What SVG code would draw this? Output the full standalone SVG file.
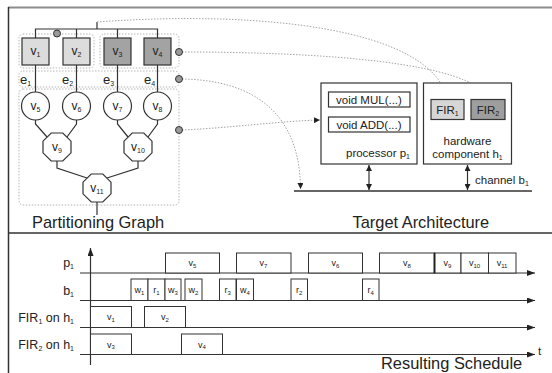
<svg xmlns="http://www.w3.org/2000/svg" width="552" height="373" viewBox="0 0 552 373">
<style>
text{font-family:"Liberation Sans",Arial,sans-serif;fill:#222}
.n{stroke:#333;stroke-width:1.2}
.w{fill:#fff}
.l{fill:none;stroke:#333;stroke-width:1.2}
.dot{fill:none;stroke:#a5a5a5;stroke-width:1;stroke-dasharray:1.5 1.5}
.grp{fill:none;stroke:#b5b5b5;stroke-width:1;stroke-dasharray:1.5 1.5}
.port{fill:#9a9a9a;stroke:#333;stroke-width:1}
.t12{font-size:12px}
.t11{font-size:11.5px}
.rl{font-size:12.5px}
.t9{font-size:9px}
.big{font-size:16.4px}
.sb{font-size:7px}
.sb6{font-size:6px}
.ax{stroke:#333;stroke-width:1.2;fill:none}
.sbox{fill:#fff;stroke:#333;stroke-width:1}
</style>
<defs>
<marker id="ah" markerUnits="userSpaceOnUse" markerWidth="6" markerHeight="6" refX="6" refY="3" orient="auto-start-reverse"><path d="M0,0 L6,3 L0,6 z" fill="#222"/></marker>
<marker id="ax" markerUnits="userSpaceOnUse" markerWidth="8" markerHeight="6" refX="8" refY="3" orient="auto"><path d="M0,0 L8,3 L0,6 z" fill="#222"/></marker>
</defs>
<rect x="0" y="0" width="552" height="373" fill="#fff"/>
<!-- frame -->
<line x1="8" y1="7.5" x2="552" y2="7.5" stroke="#8c8c8c" stroke-width="2"/>
<line x1="8.5" y1="7" x2="8.5" y2="373" stroke="#333" stroke-width="1.5"/>
<line x1="8" y1="233" x2="552" y2="233" stroke="#333" stroke-width="1.6"/>

<!-- grouping rectangles -->
<g id="groups">
<rect class="grp" x="19" y="34" width="75" height="34" rx="4"/>
<rect class="grp" x="100" y="34" width="79" height="34" rx="4"/>
<rect class="grp" x="19" y="71" width="160" height="16" rx="4"/>
<rect class="grp" x="19" y="89" width="160" height="116" rx="4"/>
</g>

<!-- connectors -->
<g id="connectors">
<path class="l" d="M35.5,38 V29 H157.5 V38 M76.5,29 V38 M117.5,29 V38 M97,29 V22"/>
<path class="l" d="M35.5,65 V92 M76.5,65 V92 M117.5,65 V92 M157.5,65 V92"/>
<path class="l" d="M35.5,120 V124 L47,137 M76.5,120 V124 L67,137 M117.5,120 V124 L128,137 M157.5,120 V124 L148,137"/>
<path class="l" d="M57,161 V168 L87,178 M138,161 V168 L107,178 M97,202 V215"/>
<path class="dot" d="M97,22 C260,10 430,28 447,98" marker-end="url(#ah)"/>
<path class="dot" d="M182,52 C320,52 470,62 488,98" marker-end="url(#ah)"/>
<path class="dot" d="M182,79 C250,80 300,110 300.5,189" marker-end="url(#ah)"/>
<path class="dot" d="M182,130 C230,128 280,121 320,120" marker-end="url(#ah)"/>
<line x1="294" y1="191" x2="532" y2="191" stroke="#333" stroke-width="1.3"/>
<line x1="369" y1="165" x2="369" y2="190" stroke="#333" stroke-width="1.2" marker-start="url(#ah)" marker-end="url(#ah)"/>
<line x1="467.5" y1="165" x2="467.5" y2="190" stroke="#333" stroke-width="1.2" marker-start="url(#ah)" marker-end="url(#ah)"/>
</g>

<!-- ports -->
<g id="ports">
<circle class="port" cx="57" cy="33.5" r="3.5"/>
<circle class="port" cx="179" cy="52" r="3.5"/>
<circle class="port" cx="179" cy="79" r="3.5"/>
<circle class="port" cx="179" cy="130" r="3.5"/>
</g>

<!-- partitioning graph nodes -->
<g id="v1"><rect class="n" x="22" y="38" width="27" height="27" fill="#dcdcdc"/><text class="t12" x="35.5" y="55" text-anchor="middle">v<tspan class="sb" dy="2">1</tspan></text></g>
<g id="v2"><rect class="n" x="63" y="38" width="27" height="27" fill="#dcdcdc"/><text class="t12" x="76.5" y="55" text-anchor="middle">v<tspan class="sb" dy="2">2</tspan></text></g>
<g id="v3"><rect class="n" x="104" y="38" width="27" height="27" fill="#a3a3a3"/><text class="t12" x="117.5" y="55" text-anchor="middle">v<tspan class="sb" dy="2">3</tspan></text></g>
<g id="v4"><rect class="n" x="144" y="38" width="27" height="27" fill="#a3a3a3"/><text class="t12" x="157.5" y="55" text-anchor="middle">v<tspan class="sb" dy="2">4</tspan></text></g>
<g id="e-labels">
<text x="20" y="84" font-size="13">e<tspan class="sb" dy="2">1</tspan></text>
<text x="62" y="84" font-size="13">e<tspan class="sb" dy="2">2</tspan></text>
<text x="103" y="84" font-size="13">e<tspan class="sb" dy="2">3</tspan></text>
<text x="144" y="84" font-size="13">e<tspan class="sb" dy="2">4</tspan></text>
</g>
<g id="v5"><circle class="n w" cx="35.5" cy="106" r="14"/><text class="t12" x="35.5" y="110" text-anchor="middle">v<tspan class="sb" dy="2">5</tspan></text></g>
<g id="v6"><circle class="n w" cx="76.5" cy="106" r="14"/><text class="t12" x="76.5" y="110" text-anchor="middle">v<tspan class="sb" dy="2">6</tspan></text></g>
<g id="v7"><circle class="n w" cx="117.5" cy="106" r="14"/><text class="t12" x="117.5" y="110" text-anchor="middle">v<tspan class="sb" dy="2">7</tspan></text></g>
<g id="v8"><circle class="n w" cx="157.5" cy="106" r="14"/><text class="t12" x="157.5" y="110" text-anchor="middle">v<tspan class="sb" dy="2">8</tspan></text></g>
<g id="v9"><polygon class="n w" points="51.2,133 62.8,133 71,141.2 71,152.8 62.8,161 51.2,161 43,152.8 43,141.2"/><text class="t12" x="57" y="151" text-anchor="middle">v<tspan class="sb" dy="2">9</tspan></text></g>
<g id="v10"><polygon class="n w" points="132.2,133 143.8,133 152,141.2 152,152.8 143.8,161 132.2,161 124,152.8 124,141.2"/><text class="t12" x="138" y="151" text-anchor="middle">v<tspan class="sb" dy="2">10</tspan></text></g>
<g id="v11"><polygon class="n w" points="91.2,174 102.8,174 111,182.2 111,193.8 102.8,202 91.2,202 83,193.8 83,182.2"/><text class="t12" x="97" y="192" text-anchor="middle">v<tspan class="sb" dy="2">11</tspan></text></g>
<text class="big" x="32" y="228">Partitioning Graph</text>

<!-- target architecture -->
<g id="processor">
<rect class="n w" x="321" y="83" width="96" height="81"/>
<rect class="n w" x="328.5" y="92" width="81.5" height="15" stroke-width="1"/>
<text class="t11" x="369" y="104" text-anchor="middle">void MUL(...)</text>
<rect class="n w" x="328.5" y="117" width="81.5" height="15" stroke-width="1"/>
<text class="t11" x="369" y="129" text-anchor="middle">void ADD(...)</text>
<text class="t11" x="410" y="157" text-anchor="end">processor p<tspan class="sb" dy="2">1</tspan></text>
</g>
<g id="hardware">
<rect class="n w" x="423.5" y="83" width="88" height="81"/>
<g id="FIR1"><rect class="n" x="431" y="99.5" width="33" height="20" fill="#d6d6d6" stroke-width="1"/><text class="t11" x="447.5" y="113.5" text-anchor="middle">FIR<tspan class="sb" dy="2">1</tspan></text></g>
<g id="FIR2"><rect class="n" x="471" y="99.5" width="34" height="20" fill="#9e9e9e" stroke-width="1"/><text class="t11" x="488" y="113.5" text-anchor="middle">FIR<tspan class="sb" dy="2">2</tspan></text></g>
<text class="t11" x="467.5" y="145" text-anchor="middle">hardware</text>
<text class="t11" x="467.5" y="158" text-anchor="middle">component h<tspan class="sb" dy="2">1</tspan></text>
</g>
<text class="t11" x="475" y="184">channel b<tspan class="sb" dy="2">1</tspan></text>
<text class="big" x="352.5" y="228">Target Architecture</text>

<!-- schedule -->
<g id="schedule-axes">
<line class="ax" x1="90.5" y1="365" x2="90.5" y2="248" marker-end="url(#ax)"/>
<line class="ax" x1="80" y1="273" x2="535" y2="273" marker-end="url(#ax)"/>
<line class="ax" x1="80" y1="300.5" x2="535" y2="300.5" marker-end="url(#ax)"/>
<line class="ax" x1="80" y1="327.5" x2="535" y2="327.5" marker-end="url(#ax)"/>
<line class="ax" x1="80" y1="354.5" x2="535" y2="354.5" marker-end="url(#ax)"/>
</g>
<g id="row-labels">
<text class="rl" x="74" y="267" text-anchor="end">p<tspan class="sb" dy="2">1</tspan></text>
<text class="rl" x="74" y="295" text-anchor="end">b<tspan class="sb" dy="2">1</tspan></text>
<text class="rl" x="74" y="322" text-anchor="end">FIR<tspan class="sb" dy="2">1</tspan><tspan dy="-2"> on h</tspan><tspan class="sb" dy="2">1</tspan></text>
<text class="rl" x="74" y="349" text-anchor="end">FIR<tspan class="sb" dy="2">2</tspan><tspan dy="-2"> on h</tspan><tspan class="sb" dy="2">1</tspan></text>
<text class="t11" x="538" y="355">t</text>
</g>
<g id="p1-row">
<rect class="sbox" x="165.5" y="253" width="54" height="20"/><text class="t9" x="192.5" y="266" text-anchor="middle">v<tspan class="sb6" dy="1.5">5</tspan></text>
<rect class="sbox" x="236.5" y="253" width="54.5" height="20"/><text class="t9" x="263.5" y="266" text-anchor="middle">v<tspan class="sb6" dy="1.5">7</tspan></text>
<rect class="sbox" x="308.5" y="253" width="54" height="20"/><text class="t9" x="335.5" y="266" text-anchor="middle">v<tspan class="sb6" dy="1.5">6</tspan></text>
<rect class="sbox" x="379.5" y="253" width="55" height="20"/><text class="t9" x="407" y="266" text-anchor="middle">v<tspan class="sb6" dy="1.5">8</tspan></text>
<rect class="sbox" x="434.5" y="253" width="26.5" height="20"/><text class="t9" x="447.5" y="266" text-anchor="middle">v<tspan class="sb6" dy="1.5">9</tspan></text>
<rect class="sbox" x="461" y="253" width="27.5" height="20"/><text class="t9" x="474.5" y="266" text-anchor="middle">v<tspan class="sb6" dy="1.5">10</tspan></text>
<rect class="sbox" x="488.5" y="253" width="27.5" height="20"/><text class="t9" x="502" y="266" text-anchor="middle">v<tspan class="sb6" dy="1.5">11</tspan></text>
<line x1="434.5" y1="253" x2="434.5" y2="273" stroke="#222" stroke-width="2"/>
</g>
<g id="b1-row">
<rect class="sbox" x="131" y="279" width="17" height="21.5"/><text class="t9" x="139.5" y="293" text-anchor="middle">w<tspan class="sb6" dy="1.5">1</tspan></text>
<rect class="sbox" x="148" y="279" width="17" height="21.5"/><text class="t9" x="156.5" y="293" text-anchor="middle">r<tspan class="sb6" dy="1.5">1</tspan></text>
<rect class="sbox" x="165" y="279" width="16" height="21.5"/><text class="t9" x="173" y="293" text-anchor="middle">w<tspan class="sb6" dy="1.5">3</tspan></text>
<rect class="sbox" x="185" y="279" width="17" height="21.5"/><text class="t9" x="193.5" y="293" text-anchor="middle">w<tspan class="sb6" dy="1.5">2</tspan></text>
<rect class="sbox" x="219.5" y="279" width="16.5" height="21.5"/><text class="t9" x="227.7" y="293" text-anchor="middle">r<tspan class="sb6" dy="1.5">3</tspan></text>
<rect class="sbox" x="236.5" y="279" width="17" height="21.5"/><text class="t9" x="245" y="293" text-anchor="middle">w<tspan class="sb6" dy="1.5">4</tspan></text>
<rect class="sbox" x="291" y="279" width="16.5" height="21.5"/><text class="t9" x="299.2" y="293" text-anchor="middle">r<tspan class="sb6" dy="1.5">2</tspan></text>
<rect class="sbox" x="362.5" y="279" width="16.5" height="21.5"/><text class="t9" x="370.7" y="293" text-anchor="middle">r<tspan class="sb6" dy="1.5">4</tspan></text>
</g>
<g id="fir1-row">
<rect class="sbox" x="90.5" y="306.5" width="41" height="21"/><text class="t9" x="111" y="320" text-anchor="middle">v<tspan class="sb6" dy="1.5">1</tspan></text>
<rect class="sbox" x="144.5" y="306.5" width="41" height="21"/><text class="t9" x="165" y="320" text-anchor="middle">v<tspan class="sb6" dy="1.5">2</tspan></text>
</g>
<g id="fir2-row">
<rect class="sbox" x="90.5" y="334" width="41" height="20.5"/><text class="t9" x="111" y="347.5" text-anchor="middle">v<tspan class="sb6" dy="1.5">3</tspan></text>
<rect class="sbox" x="181.5" y="334" width="41" height="20.5"/><text class="t9" x="202" y="347.5" text-anchor="middle">v<tspan class="sb6" dy="1.5">4</tspan></text>
</g>
<text class="big" x="381" y="369">Resulting Schedule</text>
</svg>
